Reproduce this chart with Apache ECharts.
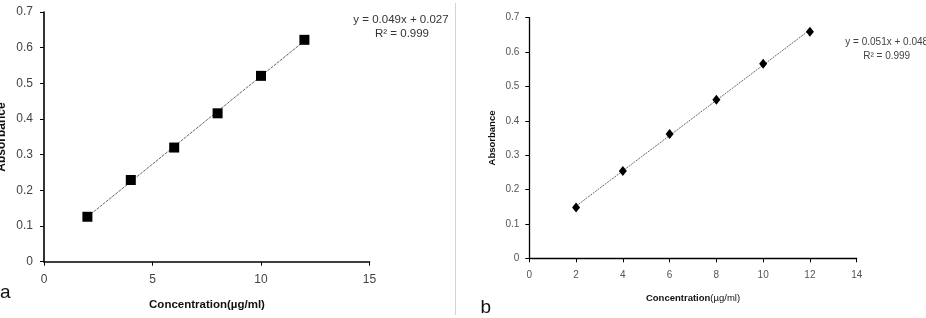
<!DOCTYPE html>
<html>
<head>
<meta charset="utf-8">
<script src="https://cdn.jsdelivr.net/npm/echarts@6/dist/echarts.min.js"></script>
<style>
html,body{margin:0;padding:0;background:#fff;}
#main{width:926px;height:318px;}
</style>
</head>
<body>
<div id="main"></div>
<script>
// ---- data ----
const concA = [2, 4, 6, 8, 10, 12];
const absA = [0.126, 0.229, 0.320, 0.416, 0.521, 0.622];
const concB = [2, 4, 6, 8, 10, 12];
const absB = [0.148, 0.254, 0.362, 0.461, 0.566, 0.659];
const eqA = ['y = 0.049x + 0.027', 'R² = 0.999'];
const eqB = ['y = 0.051x + 0.048', 'R² = 0.999'];
const panelLabels = ['a', 'b'];
const xTitle = 'Concentration(µg/ml)';
const yTitle = 'Absorbance';

function fit(xs, ys) {
  const n = xs.length;
  let sx = 0, sy = 0, sxx = 0, sxy = 0;
  for (let i = 0; i < n; i++) { sx += xs[i]; sy += ys[i]; sxx += xs[i]*xs[i]; sxy += xs[i]*ys[i]; }
  const m = (n*sxy - sx*sy) / (n*sxx - sx*sx);
  const b = (sy - m*sx) / n;
  const x0 = Math.min(...xs), x1 = Math.max(...xs);
  return [[x0, m*x0 + b], [x1, m*x1 + b]];
}
const pts = (xs, ys) => xs.map((x, i) => [x, ys[i]]);

const chart = echarts.init(document.getElementById('main'), null, {renderer: 'canvas'});
const FONT = '"Liberation Sans", Arial, sans-serif';

const axisBase = (w) => ({
  type: 'value',
  splitLine: {show: false},
  axisLine: {show: true, onZero: false, lineStyle: {color: '#000', width: w}},
  axisTick: {show: true, inside: false, length: 4, lineStyle: {color: '#000', width: 1}},
});

const option = {
  backgroundColor: '#fff',
  animation: false,
  grid: [
    {left: 44, top: 12, width: 325.5, height: 249.7},
    {left: 529.3, top: 17.7, width: 327.4, height: 240.6}
  ],
  xAxis: [
    Object.assign(axisBase(1.6), {gridIndex: 0, min: 0, max: 15, interval: 5,
      axisLabel: {margin: 12, fontSize: 12, color: '#444', fontFamily: FONT}}),
    Object.assign(axisBase(1.3), {gridIndex: 1, min: 0, max: 14, interval: 2,
      axisLabel: {margin: 12, fontSize: 10, color: '#555', fontFamily: FONT}})
  ],
  yAxis: [
    Object.assign(axisBase(1.6), {gridIndex: 0, min: 0, max: 0.7, interval: 0.1,
      axisLabel: {margin: 11, fontSize: 12, color: '#444', fontFamily: FONT}}),
    Object.assign(axisBase(1.3), {gridIndex: 1, min: 0, max: 0.7, interval: 0.1,
      axisLabel: {margin: 10, fontSize: 10, color: '#555', fontFamily: FONT}})
  ],
  series: [
    {type: 'line', xAxisIndex: 0, yAxisIndex: 0, data: fit(concA, absA), symbol: 'none',
      lineStyle: {color: '#666', width: 1, type: [3, 1]}, silent: true, z: 1},
    {type: 'scatter', xAxisIndex: 0, yAxisIndex: 0, data: pts(concA, absA), symbol: 'rect',
      symbolSize: 10, itemStyle: {color: '#000', opacity: 1}, z: 3},
    {type: 'line', xAxisIndex: 1, yAxisIndex: 1, data: fit(concB, absB), symbol: 'none',
      lineStyle: {color: '#666', width: 1, type: [2, 1]}, silent: true, z: 1},
    {type: 'scatter', xAxisIndex: 1, yAxisIndex: 1, data: pts(concB, absB), symbol: 'diamond',
      symbolSize: [8, 10], itemStyle: {color: '#000', opacity: 1}, z: 3}
  ],
  graphic: [
    {type: 'line', shape: {x1: 455.5, y1: 3, x2: 455.5, y2: 315}, style: {stroke: '#d4d4d4', lineWidth: 1}},
    // left panel texts
    {type: 'text', x: 401, y: 20, style: {text: eqA[0], font: '11.5px ' + FONT, fill: '#333', textAlign: 'center', textVerticalAlign: 'middle'}},
    {type: 'text', x: 402, y: 34, style: {text: eqA[1], font: '11.5px ' + FONT, fill: '#333', textAlign: 'center', textVerticalAlign: 'middle'}},
    {type: 'text', x: 207, y: 305, style: {text: xTitle, font: 'bold 11.5px ' + FONT, fill: '#111', textAlign: 'center', textVerticalAlign: 'middle'}},
    {type: 'text', x: 1.5, y: 137, rotation: Math.PI / 2, style: {text: yTitle, font: 'bold 12px ' + FONT, fill: '#111', textAlign: 'center', textVerticalAlign: 'middle'}},
    {type: 'text', x: 0, y: 302, style: {text: panelLabels[0], font: '19px ' + FONT, fill: '#111', textAlign: 'left', textVerticalAlign: 'bottom'}},
    // right panel texts
    {type: 'text', x: 886.7, y: 42.3, style: {text: eqB[0], font: '10px ' + FONT, fill: '#444', textAlign: 'center', textVerticalAlign: 'middle'}},
    {type: 'text', x: 886.7, y: 56, style: {text: eqB[1], font: '10px ' + FONT, fill: '#444', textAlign: 'center', textVerticalAlign: 'middle'}},
    {type: 'text', x: 693, y: 298, style: {
      text: '{b|Concentration}{n|' + xTitle.slice('Concentration'.length) + '}',
      rich: {b: {font: 'bold 9.5px ' + FONT, fill: '#111'}, n: {font: '9.5px ' + FONT, fill: '#111'}},
      textAlign: 'center', textVerticalAlign: 'middle'}},
    {type: 'text', x: 492, y: 138, rotation: Math.PI / 2, style: {text: yTitle, font: 'bold 9.5px ' + FONT, fill: '#111', textAlign: 'center', textVerticalAlign: 'middle'}},
    {type: 'text', x: 480.5, y: 317, style: {text: panelLabels[1], font: '19px ' + FONT, fill: '#111', textAlign: 'left', textVerticalAlign: 'bottom'}}
  ]
};
chart.setOption(option);
</script>
</body>
</html>
